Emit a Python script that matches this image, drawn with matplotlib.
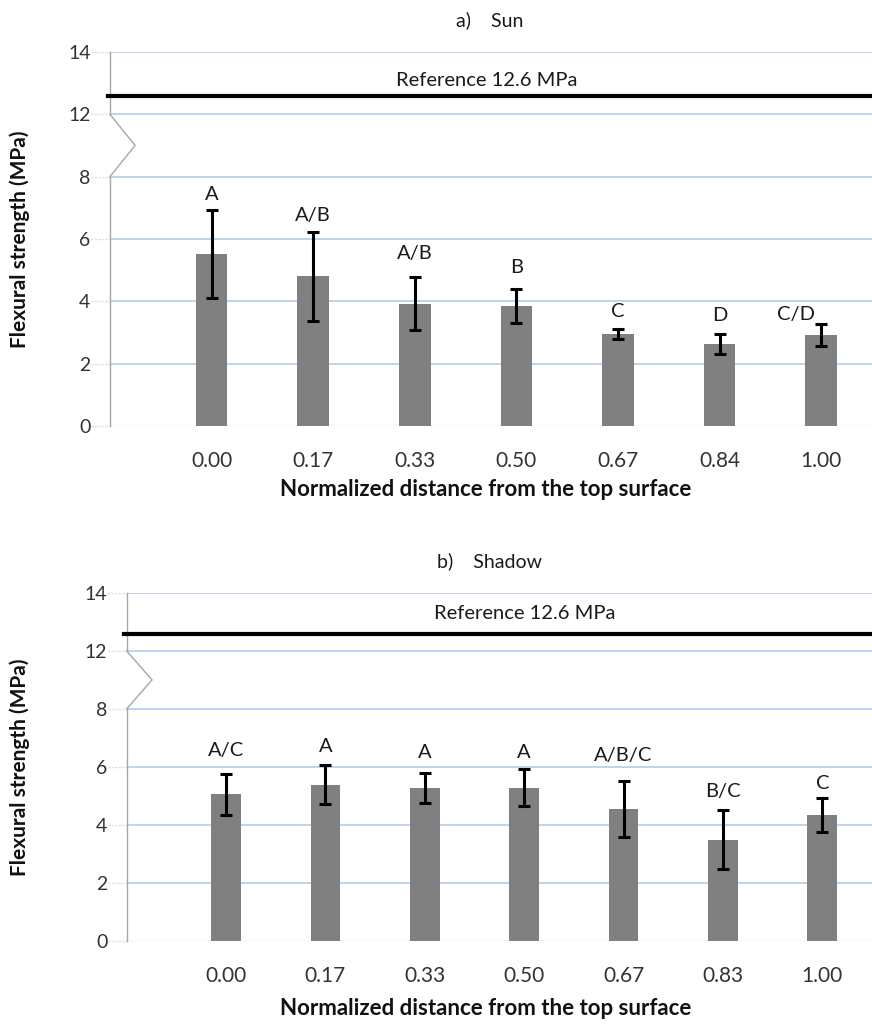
import matplotlib
matplotlib.use("Agg")
import matplotlib.pyplot as plt
import numpy as np

plt.rcParams['font.family'] = ['Lato', 'DejaVu Sans']

# ---- data ----
sun_cats = ["0.00", "0.17", "0.33", "0.50", "0.67", "0.84", "1.00"]
sun_mean = [5.52, 4.80, 3.93, 3.84, 2.95, 2.62, 2.91]
sun_err = [1.42, 1.44, 0.86, 0.55, 0.16, 0.32, 0.35]
sun_letters = ["A", "A/B", "A/B", "B", "C", "D", "C/D"]

shadow_cats = ["0.00", "0.17", "0.33", "0.50", "0.67", "0.83", "1.00"]
shadow_mean = [5.06, 5.38, 5.28, 5.28, 4.54, 3.49, 4.33]
shadow_err = [0.71, 0.67, 0.51, 0.64, 0.97, 1.03, 0.58]
shadow_letters = ["A/C", "A", "A", "A", "A/B/C", "B/C", "C"]

reference = 12.6
ytick_values = [0, 2, 4, 6, 8, 12, 14]

# layout (text offsets above error bars, in MPa)
sun_lab_off = [0.50, 0.52, 0.75, 0.68, 0.55, 0.61, 0.31]
sun_lab_dx = [0, 0, 0, 0, 0, 0, -0.25]
shadow_lab_off = [0.78, 0.65, 0.71, 0.59, 0.89, 0.64, 0.53]


def tr(v):
    """broken axis: 8..12 collapsed to one step"""
    v = np.asarray(v, dtype=float)
    return np.where(v <= 8, v, v - 2)


def panel(fig, rect, cats, mean, err, letters, off, dx, title, title_y,
          xlab_y, ref_x, ref_y, bar_w, zig_w):
    ax = fig.add_axes(rect)
    x = np.arange(len(cats))
    mean = np.array(mean)
    err = np.array(err)
    ax.bar(x, tr(mean), width=bar_w, color="#808080", zorder=3)
    ax.errorbar(x, tr(mean), yerr=err, fmt="none", ecolor="black",
                elinewidth=2.2, capsize=4.5, capthick=2.2, zorder=4)
    for i in range(len(x)):
        ax.text(x[i] + dx[i], tr(mean[i] + err[i] + off[i]), letters[i],
                ha="center", va="center", fontsize=14.5, color="#1a1a1a", zorder=5)
    ax.set_xlim(-1.0, 6.5)
    ax.set_ylim(0, 12)
    yt = tr(ytick_values)
    ax.set_yticks(yt)
    ax.set_yticklabels([str(v) for v in ytick_values])
    ax.set_xticks(x)
    ax.set_xticklabels(cats)
    for t in yt[1:]:
        ax.axhline(t, color="#adc9e8", lw=1.1, zorder=1)
    ax.axhline(0, color="#c8c8c8", lw=1.0, ls=(0, (2, 1)), zorder=2)
    for s in ax.spines.values():
        s.set_visible(False)
    ax.tick_params(axis="both", length=0, labelcolor="#333333")
    ax.tick_params(axis="x", pad=18, labelsize=15)
    ax.tick_params(axis="y", pad=14, labelsize=14)
    # left axis with break
    tf = ax.get_yaxis_transform()
    ax.plot([0, 0], [0, 8], color="#a6a6a6", lw=1.0, transform=tf, clip_on=False, zorder=2)
    ax.plot([0, zig_w, 0], [8, 9, 10], color="#a6a6a6", lw=1.0, transform=tf,
            clip_on=False, zorder=2)
    ax.plot([0, 0], [10, 12], color="#a6a6a6", lw=1.0, transform=tf, clip_on=False, zorder=2)
    for t in yt:
        ax.plot([-0.025, 0], [t, t], color="#d5dde8", lw=1.0, ls=(0, (1.5, 1)),
                transform=tf, clip_on=False, zorder=1)
    # reference line
    ax.plot([-0.003, 1.0], [tr(reference)] * 2, color="black", lw=3.0,
            transform=tf, clip_on=False, zorder=4)
    ax.text(ref_x, tr(ref_y), "Reference 12.6 MPa", ha="center", va="center",
            fontsize=14.5, color="#1a1a1a")
    fig.text(0.561, title_y, title, ha="center", va="center", fontsize=14, color="#1a1a1a")
    fig.text(0.557, xlab_y, "Normalized distance from the top surface", ha="center",
             va="center", fontsize=16, fontweight="bold", color="#111111")
    fig.text(0.023, rect[1] + rect[3] / 2, "Flexural strength (MPa)", rotation=90,
             ha="center", va="center", fontsize=15, fontweight="bold", color="#111111")
    return ax


fig = plt.figure(figsize=(8.72, 10.29), dpi=100)
panel(fig, [0.1261, 0.586, 0.8739, 0.3635], sun_cats, sun_mean, sun_err,
      sun_letters, sun_lab_off, sun_lab_dx, "a)    Sun", 0.9806, 0.524,
      2.71, 13.09, 0.31, 0.033)
panel(fig, [0.1453, 0.0858, 0.8547, 0.3379], shadow_cats, shadow_mean, shadow_err,
      shadow_letters, shadow_lab_off, [0] * 7, "b)    Shadow", 0.4548, 0.0204,
      3.0, 13.28, 0.30, 0.034)
fig.savefig("out.png", dpi=100, facecolor="white")
